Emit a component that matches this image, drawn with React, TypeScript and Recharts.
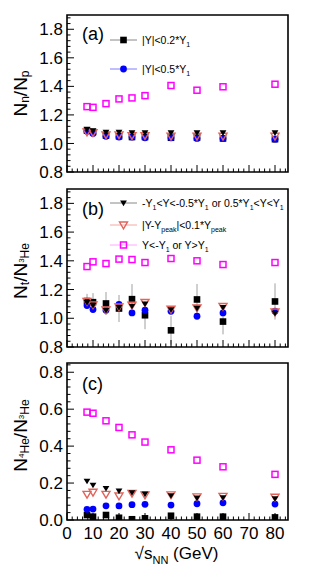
import React from "react";
import { ScatterChart, Scatter, XAxis, YAxis, ErrorBar, ReferenceArea, Legend } from "recharts";

const energies = [7.7, 10, 15, 20, 25, 30, 40, 50, 60, 80];

// (a) N_n / N_p
const npCentral02 = [1.09, 1.08, 1.055, 1.05, 1.045, 1.045, 1.04, 1.04, 1.035, 1.03];
const npCentral05 = [1.085, 1.07, 1.05, 1.045, 1.045, 1.04, 1.04, 1.035, 1.035, 1.03];
const npMid = [1.1, 1.09, 1.08, 1.08, 1.075, 1.075, 1.075, 1.075, 1.075, 1.075];
const npPeak = [1.08, 1.075, 1.06, 1.06, 1.055, 1.055, 1.05, 1.05, 1.05, 1.05];
const npForward = [1.258, 1.253, 1.279, 1.312, 1.319, 1.335, 1.406, 1.373, 1.397, 1.415];

// (b) N_t / N_3He
const tCentral02 = [1.12, 1.112, 1.103, 1.068, 1.133, 1.021, 0.916, 1.131, 0.977, 1.117];
const tCentral02Err = [0.05, 0.063, 0.08, 0.094, 0.105, 0.097, 0.1, 0.108, 0.089, 0.126];
const tCentral05 = [1.089, 1.061, 1.056, 1.096, 1.037, 1.056, 1.049, 1.014, 1.037, 1.049];
const tMid = [1.11, 1.09, 1.055, 1.075, 1.085, 1.1, 1.06, 1.07, 1.075, 1.035];
const tPeak = [1.117, 1.093, 1.058, 1.079, 1.091, 1.11, 1.063, 1.072, 1.082, 1.044];
const tForward = [1.36, 1.393, 1.381, 1.412, 1.409, 1.388, 1.416, 1.4, 1.374, 1.388];

// (c) N_4He / N_3He
const heCentral02 = [0.027, 0.018, 0.027, 0.012, 0.004, 0.009, 0.023, 0.018, 0.018, 0.014];
const heCentral05 = [0.058, 0.059, 0.077, 0.076, 0.083, 0.085, 0.081, 0.088, 0.093, 0.086];
const heMid = [0.211, 0.189, 0.171, 0.157, 0.148, 0.141, 0.132, 0.119, 0.121, 0.116];
const hePeak = [0.139, 0.15, 0.139, 0.13, 0.144, 0.135, 0.136, 0.125, 0.128, 0.123];
const heForward = [0.584, 0.578, 0.537, 0.501, 0.461, 0.422, 0.38, 0.324, 0.288, 0.247];

const xMajor = [0, 10, 20, 30, 40, 50, 60, 70, 80];
const ratioMajor = [0.8, 1.0, 1.2, 1.4, 1.6, 1.8];
const heMajor = [0, 0.2, 0.4, 0.6, 0.8];

const FONT = "'Liberation Sans', Arial, Helvetica, sans-serif";

const stepTicks = (lo: number, hi: number, step: number) => {
  const out: number[] = [];
  for (let v = lo; v <= hi + 1e-9; v += step) out.push(Math.round(v * 1000) / 1000);
  return out;
};
const xTicks = stepTicks(0, 84, 2);
const ratioTicks = stepTicks(0.8, 1.88, 0.04);
const heTicks = stepTicks(0, 0.84, 0.04);

const pts = (ys: number[], errs?: number[]) =>
  energies.map((x, i) => ({ x, y: ys[i], err: errs ? errs[i] : 0 }));

const isMajor = (v: number, majors: number[]) => majors.some((m) => Math.abs(m - v) < 1e-6);

type Kind = "sq" | "circ" | "tri" | "otri" | "osq";

function Marker({ kind, cx, cy }: { kind: Kind; cx: number; cy: number }) {
  if (kind === "sq") return <rect x={cx - 3.3} y={cy - 3.3} width={6.6} height={6.6} fill="#000" />;
  if (kind === "circ") return <circle cx={cx} cy={cy} r={3.4} fill="#0000ff" />;
  if (kind === "tri")
    return <polygon points={`${cx - 3.4},${cy - 2.4} ${cx + 3.4},${cy - 2.4} ${cx},${cy + 3.2}`} fill="#000" />;
  if (kind === "otri")
    return (
      <polygon
        points={`${cx - 4},${cy - 3} ${cx + 4},${cy - 3} ${cx},${cy + 3.8}`}
        fill="none"
        stroke="#e2635a"
        strokeWidth={1.4}
      />
    );
  return <rect x={cx - 3} y={cy - 3} width={6} height={6} fill="none" stroke="#ff00ff" strokeWidth={1.5} />;
}

const shape = (kind: Kind) => (p: any) => <Marker kind={kind} cx={p.cx} cy={p.cy} />;

type Part = [string, "n" | "b" | "bs"];

function renderParts(parts: Part[], size: { n: number; b: number; bs: number }, off: { n: number; b: number; bs: number }) {
  let cur = 0;
  return parts.map(([t, lv], i) => {
    const dy = off[lv] - cur;
    cur = off[lv];
    return (
      <tspan key={i} dy={dy} fontSize={size[lv]}>
        {t}
      </tspan>
    );
  });
}

function YTick(props: any) {
  const { x, y, payload, majors } = props;
  const major = isMajor(payload.value, majors);
  return (
    <g>
      <line x1={x} x2={x + (major ? 7 : 3.5)} y1={y} y2={y} stroke="#000" />
      {major && (
        <text x={x - 4} y={y} dy="0.36em" textAnchor="end" fontSize={17} fontFamily={FONT} fill="#000">
          {payload.value.toFixed(1)}
        </text>
      )}
    </g>
  );
}

function XTick(props: any) {
  const { x, y, payload, labels } = props;
  const major = isMajor(payload.value, xMajor);
  return (
    <g>
      <line x1={x} x2={x} y1={y} y2={y - (major ? 7 : 3.5)} stroke="#000" />
      {labels && major && (
        <text x={x} y={y + 19} textAnchor="middle" fontSize={17} fontFamily={FONT} fill="#000">
          {payload.value}
        </text>
      )}
    </g>
  );
}

function YTitle({ viewBox, parts, shift }: any) {
  const cx = viewBox.x + 20;
  const cy = viewBox.y + viewBox.height / 2 + shift;
  return (
    <text
      x={cx}
      y={cy}
      transform={`rotate(-90 ${cx} ${cy})`}
      textAnchor="middle"
      dominantBaseline="central"
      fontFamily={FONT}
      fill="#000"
    >
      {renderParts(parts, { n: 19, b: 12, bs: 8 }, { n: 0, b: 5, bs: 1 })}
    </text>
  );
}

type Entry = { kind: Kind; line: string; y: number; parts: Part[] };

function PanelLegend({ tag, tagY, entries }: { tag: string; tagY: number; entries: Entry[] }) {
  return (
    <svg width={319} height={80} style={{ overflow: "visible" }}>
      <text x={82} y={tagY} fontSize={18} fontFamily={FONT} fill="#000">
        {tag}
      </text>
      {entries.map((e, i) => (
        <g key={i}>
          <line x1={110} x2={137} y1={e.y} y2={e.y} stroke={e.line} strokeWidth={1} />
          <Marker kind={e.kind} cx={123.5} cy={e.y} />
          <text x={142} y={e.y + 4} fontFamily={FONT} fill="#000">
            {renderParts(e.parts, { n: 10.5, b: 7, bs: 7 }, { n: 0, b: 3, bs: 3 })}
          </text>
        </g>
      ))}
    </svg>
  );
}

const legendA: Entry[] = [
  { kind: "sq", line: "#888", y: 40, parts: [["|Y|<0.2*Y", "n"], ["1", "b"]] },
  { kind: "circ", line: "#7f7fff", y: 69, parts: [["|Y|<0.5*Y", "n"], ["1", "b"]] },
];
const legendB: Entry[] = [
  {
    kind: "tri",
    line: "#888",
    y: 22,
    parts: [["-Y", "n"], ["1", "b"], ["<Y<-0.5*Y", "n"], ["1", "b"], [" or 0.5*Y", "n"], ["1", "b"], ["<Y<Y", "n"], ["1", "b"]],
  },
  { kind: "otri", line: "#f4a8a2", y: 44, parts: [["|Y-Y", "n"], ["peak", "b"], ["|<0.1*Y", "n"], ["peak", "b"]] },
  { kind: "osq", line: "#ffa8ff", y: 64, parts: [["Y<-Y", "n"], ["1", "b"], [" or Y>Y", "n"], ["1", "b"]] },
];

type PanelProps = {
  height: number;
  top: number;
  bottom: number;
  xAxisHeight: number;
  domain: [number, number];
  yTicks: number[];
  yMajor: number[];
  title: Part[];
  titleShift: number;
  sq: number[];
  sqErr?: number[];
  circ: number[];
  tri: number[];
  otri: number[];
  osq: number[];
  legend: React.ReactNode;
  xLabels: boolean;
};

function Panel(p: PanelProps) {
  return (
    <ScatterChart width={319} height={p.height} margin={{ top: p.top, right: 31, bottom: p.bottom, left: 0 }}>
      <XAxis
        type="number"
        dataKey="x"
        domain={[0, 85]}
        allowDataOverflow
        ticks={xTicks}
        interval={0}
        tickSize={0}
        tickMargin={0}
        tickLine={false}
        axisLine={false}
        height={p.xAxisHeight}
        tick={(t: any) => <XTick {...t} labels={p.xLabels} />}
        label={
          p.xLabels
            ? {
                content: (l: any) => {
                  const vb = l.viewBox;
                  return (
                    <text x={vb.x + vb.width / 2 - 1} y={vb.y + 39} textAnchor="middle" fontFamily={FONT} fill="#000">
                      {renderParts(
                        [["\u221A", "n"], ["s", "n"], ["NN", "b"], [" (GeV)", "n"]],
                        { n: 17, b: 11, bs: 11 },
                        { n: 0, b: 5, bs: 5 }
                      )}
                    </text>
                  );
                },
              }
            : undefined
        }
      />
      <YAxis
        type="number"
        dataKey="y"
        domain={p.domain}
        allowDataOverflow
        ticks={p.yTicks}
        interval={0}
        tickSize={0}
        tickMargin={0}
        tickLine={false}
        axisLine={false}
        width={67}
        tick={(t: any) => <YTick {...t} majors={p.yMajor} />}
        label={{ content: (l: any) => <YTitle viewBox={l.viewBox} parts={p.title} shift={p.titleShift} /> }}
      />
      <ReferenceArea
        x1={0}
        x2={85}
        y1={p.domain[0]}
        y2={p.domain[1]}
        fill="none"
        stroke="#000"
        strokeWidth={1.6}
        ifOverflow="visible"
      />
      <Scatter name="sq" data={pts(p.sq, p.sqErr)} shape={shape("sq")} isAnimationActive={false}>
        {p.sqErr && <ErrorBar dataKey="err" direction="y" width={0} stroke="#a0a0a0" strokeWidth={1} />}
      </Scatter>
      <Scatter name="circ" data={pts(p.circ)} shape={shape("circ")} isAnimationActive={false} />
      <Scatter name="otri" data={pts(p.otri)} shape={shape("otri")} isAnimationActive={false} />
      <Scatter name="tri" data={pts(p.tri)} shape={shape("tri")} isAnimationActive={false} />
      <Scatter name="osq" data={pts(p.osq)} shape={shape("osq")} isAnimationActive={false} />
      <Legend
        layout="horizontal"
        verticalAlign="middle"
        align="center"
        wrapperStyle={{ left: 0, top: 0, width: 319, height: 80 }}
        content={() => p.legend}
      />
    </ScatterChart>
  );
}

export default function App() {
  return (
    <div style={{ position: "absolute", left: 0, top: 0, width: 319, height: 575, background: "#fff" }}>
      <div style={{ position: "absolute", left: 0, top: 0 }}>
        <Panel
          height={183}
          top={15}
          bottom={10}
          xAxisHeight={1}
          domain={[0.8, 1.9]}
          yTicks={ratioTicks}
          yMajor={ratioMajor}
          title={[["N", "n"], ["n", "b"], ["/N", "n"], ["p", "b"]]}
          titleShift={0}
          sq={npCentral02}
          circ={npCentral05}
          tri={npMid}
          otri={npPeak}
          osq={npForward}
          legend={<PanelLegend tag="(a)" tagY={40} entries={legendA} />}
          xLabels={false}
        />
      </div>
      <div style={{ position: "absolute", left: 0, top: 181 }}>
        <Panel
          height={177}
          top={8}
          bottom={10}
          xAxisHeight={1}
          domain={[0.8, 1.9]}
          yTicks={ratioTicks}
          yMajor={ratioMajor}
          title={[["N", "n"], ["t", "b"], ["/N", "n"], ["3", "bs"], ["He", "b"]]}
          titleShift={3}
          sq={tCentral02}
          sqErr={tCentral02Err}
          circ={tCentral05}
          tri={tMid}
          otri={tPeak}
          osq={tForward}
          legend={<PanelLegend tag="(b)" tagY={34} entries={legendB} />}
          xLabels={false}
        />
      </div>
      <div style={{ position: "absolute", left: 0, top: 355 }}>
        <Panel
          height={222}
          top={8}
          bottom={2}
          xAxisHeight={55}
          domain={[0, 0.85]}
          yTicks={heTicks}
          yMajor={heMajor}
          title={[["N", "n"], ["4", "bs"], ["He", "b"], ["/N", "n"], ["3", "bs"], ["He", "b"]]}
          titleShift={-6}
          sq={heCentral02}
          circ={heCentral05}
          tri={heMid}
          otri={hePeak}
          osq={heForward}
          legend={<PanelLegend tag="(c)" tagY={35} entries={[]} />}
          xLabels={true}
        />
      </div>
    </div>
  );
}
